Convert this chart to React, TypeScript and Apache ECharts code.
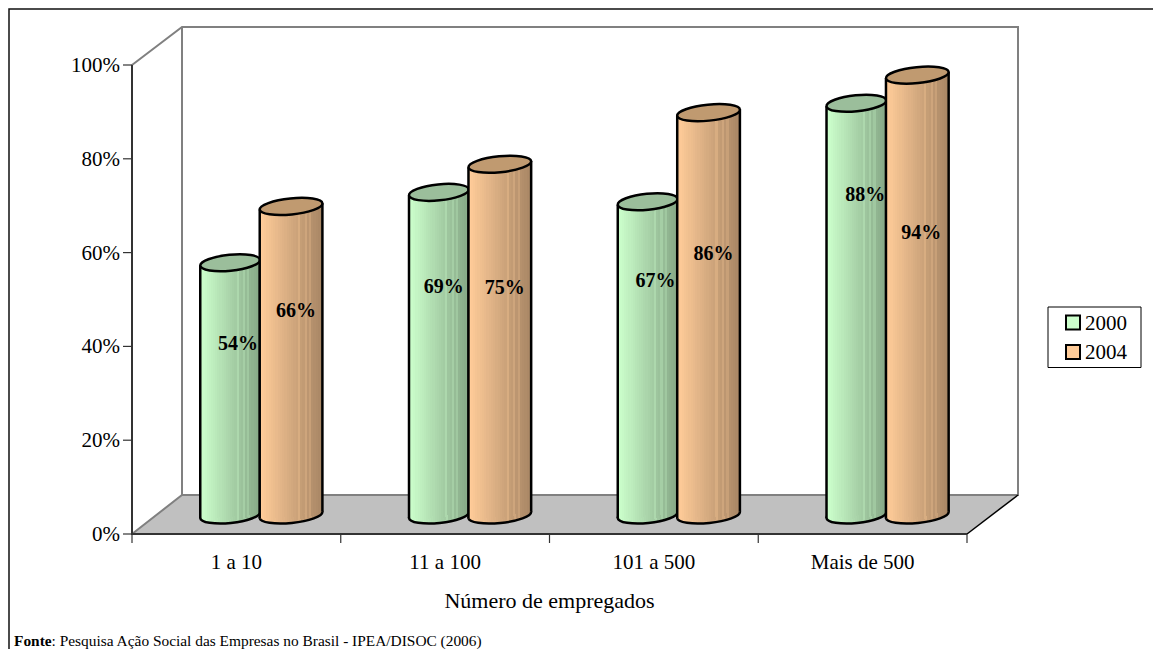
import React, { useEffect, useRef } from "react";
import * as echarts from "echarts";

const categories = ["1 a 10", "11 a 100", "101 a 500", "Mais de 500"];
const values2000 = [54, 69, 67, 88];
const values2004 = [66, 75, 86, 94];
const yTicks = { min: 0, max: 100, interval: 20 };

// label placement: how far down the cylinder each value label sits, and its sideways shift
const labelDrop2000 = [0.32, 0.29, 0.25, 0.22];
const labelDrop2004 = [0.335, 0.35, 0.35, 0.356];
const labelShift2000 = [8, 5, 8, 9];
const labelShift2004 = [5, 5, 5, 4];

const FONT = "'Liberation Serif', serif";
const DX = 50;
const DY = 39;
const LIFT = 18;
const BASE_LIFT = 19;
const TILT = 0.1;

function shade(rgb: number[], f: number) {
  return `rgb(${rgb.map((c) => Math.round(c * f)).join(",")})`;
}

function bandGradient(rgb: number[]) {
  const n = 28;
  const stops: any[] = [];
  const glints = new Set([17, 20, 22]);
  for (let i = 0; i < n; i++) {
    const t = i / (n - 1);
    let f = 1 - 0.34 * t;
    if (glints.has(i)) f += 0.06;
    stops.push({ offset: i / n, color: shade(rgb, f) });
    stops.push({ offset: (i + 1) / n, color: shade(rgb, f) });
  }
  return new echarts.graphic.LinearGradient(0, 0, 1, 0, stops);
}

function cylinderSeries(
  name: string,
  values: number[],
  rgb: number[],
  capRgb: number[],
  centerFrac: number,
  rx: number,
  drops: number[],
  shifts: number[],
  z: number
) {
  const grad = bandGradient(rgb);
  return {
    type: "custom",
    name,
    z,
    clip: false,
    itemStyle: { color: shade(rgb, 1) },
    encode: { x: 0, y: 1 },
    data: values.map((v, i) => [i, v]),
    renderItem: (params: any, api: any) => {
      const i = api.value(0);
      const v = api.value(1);
      const top = api.coord([i, v]);
      const base = api.coord([i, 0]);
      const band = api.size([1, 0])[0];
      const cx = top[0] + band * centerFrac;
      const yT = top[1] - LIFT;
      const yB = base[1] - BASE_LIFT;
      const ry = 8;
      const ex = rx * Math.cos(TILT);
      const ey = rx * Math.sin(TILT);
      const line = { stroke: "#000", lineWidth: 2.5 };
      const drop = drops[params.dataIndex];
      return {
        type: "group",
        children: [
          {
            type: "ellipse",
            x: cx,
            y: yB,
            rotation: TILT,
            shape: { cx: 0, cy: 0, rx, ry },
            style: { fill: grad, ...line },
          },
          {
            type: "polygon",
            shape: {
              points: [
                [cx - ex, yT + ey],
                [cx + ex, yT - ey],
                [cx + ex, yB - ey],
                [cx - ex, yB + ey],
              ],
            },
            style: { fill: grad },
          },
          {
            type: "line",
            shape: { x1: cx - ex, y1: yT + ey, x2: cx - ex, y2: yB + ey },
            style: line,
          },
          {
            type: "line",
            shape: { x1: cx + ex, y1: yT - ey, x2: cx + ex, y2: yB - ey },
            style: line,
          },
          {
            type: "ellipse",
            x: cx,
            y: yT,
            rotation: TILT,
            shape: { cx: 0, cy: 0, rx, ry },
            style: { fill: shade(capRgb, 1), ...line },
          },
          {
            type: "text",
            z2: 100,
            x: cx + shifts[params.dataIndex],
            y: yT + (yB - yT) * drop,
            style: {
              text: `${v}%`,
              font: `bold 20px ${FONT}`,
              fill: "#000",
              align: "center",
              verticalAlign: "middle",
            },
          },
        ],
      };
    },
  };
}

const frameSeries = {
  type: "custom",
  name: "frame",
  z: 1,
  clip: false,
  silent: true,
  encode: { x: 0, y: 1 },
  data: [[0, 0]],
  renderItem: (params: any) => {
    const { x, y, width, height } = params.coordSys;
    const b = y + height;
    const r = x + width;
    const grey = { stroke: "#808080", lineWidth: 2, fill: "none" };
    const axis = { stroke: "#333", lineWidth: 2, fill: "none" };
    const tick = { stroke: "#333", lineWidth: 1.2 };
    const xTicks = categories.concat("").map((_, i) => ({
      type: "line",
      shape: {
        x1: x + (width * i) / categories.length,
        y1: b,
        x2: x + (width * i) / categories.length,
        y2: b + 9,
      },
      style: tick,
    }));
    const yCount = (yTicks.max - yTicks.min) / yTicks.interval;
    const yMarks = Array.from({ length: yCount + 1 }, (_, i) => ({
      type: "line",
      shape: {
        x1: x - 9,
        y1: b - (height * i) / yCount,
        x2: x,
        y2: b - (height * i) / yCount,
      },
      style: tick,
    }));
    return {
      type: "group",
      children: [
        {
          type: "polygon",
          shape: { points: [[x, b], [x + DX, b - DY], [r + DX + 1, b - DY], [r, b]] },
          style: { fill: "#c0c0c0" },
        },
        {
          type: "polyline",
          shape: { points: [[x, y], [x + DX, y - 38], [r + DX + 1, y - 38], [r + DX + 1, b - DY], [x + DX, b - DY], [x, b]] },
          style: grey,
        },
        {
          type: "line",
          shape: { x1: x + DX, y1: y - 38, x2: x + DX, y2: b - DY },
          style: grey,
        },
        {
          type: "line",
          shape: { x1: r, y1: b, x2: r + DX + 1, y2: b - DY },
          style: { stroke: "#000", lineWidth: 1.5 },
        },
        {
          type: "polyline",
          shape: { points: [[x, y], [x, b], [r, b]] },
          style: axis,
        },
        ...xTicks,
        ...yMarks,
      ],
    };
  },
};

export default function App() {
  const ref = useRef<HTMLDivElement>(null);
  useEffect(() => {
    document.body.style.margin = "0";
    const chart = echarts.init(ref.current!, null, { renderer: "svg" });
    chart.setOption({
      animation: false,
      backgroundColor: "#fff",
      textStyle: { fontFamily: FONT },
      grid: { left: 132, right: 186, top: 65, bottom: 115 },
      xAxis: {
        type: "category",
        data: categories,
        boundaryGap: true,
        name: "Número de empregados",
        nameLocation: "middle",
        nameGap: 55,
        nameTextStyle: { fontFamily: FONT, fontSize: 22, color: "#000" },
        axisLine: { show: false },
        axisTick: { show: false },
        axisLabel: { fontFamily: FONT, fontSize: 21, color: "#000", margin: 17 },
        splitLine: { show: false },
      },
      yAxis: {
        type: "value",
        min: yTicks.min,
        max: yTicks.max,
        interval: yTicks.interval,
        axisLine: { show: false },
        axisTick: { show: false },
        axisLabel: { fontFamily: FONT, fontSize: 21, color: "#000", margin: 12, formatter: "{value}%" },
        splitLine: { show: false },
      },
      legend: {
        orient: "vertical",
        left: 1048,
        top: 307,
        data: ["2000", "2004"],
        icon: "rect",
        itemWidth: 14,
        itemHeight: 14,
        itemGap: 8.5,
        padding: [5, 14, 5, 17],
        borderColor: "#000",
        borderWidth: 1,
        itemStyle: { borderColor: "#000", borderWidth: 2 },
        textStyle: { fontFamily: FONT, fontSize: 21, color: "#000" },
      },
      graphic: [
        {
          type: "polyline",
          silent: true,
          shape: { points: [[9, 649], [9, 9], [1153, 9]] },
          style: { stroke: "#111", lineWidth: 1.5, fill: "none" },
        },
        {
          type: "text",
          x: 14,
          y: 640,
          style: {
            text: "{b|Fonte}: Pesquisa Ação Social das Empresas no Brasil - IPEA/DISOC (2006)",
            font: `15.4px ${FONT}`,
            fill: "#000",
            verticalAlign: "middle",
            rich: { b: { font: `bold 15.4px ${FONT}`, fill: "#000" } },
          },
        },
      ],
      series: [
        frameSeries,
        cylinderSeries("2000", values2000, [204, 255, 204], [155, 190, 155], -0.03, 30, labelDrop2000, labelShift2000, 3),
        cylinderSeries("2004", values2004, [255, 204, 153], [192, 154, 112], 0.262, 31.5, labelDrop2004, labelShift2004, 4),
      ],
    });
    return () => chart.dispose();
  }, []);
  return <div ref={ref} style={{ width: 1153, height: 649, overflow: "hidden" }} />;
}
